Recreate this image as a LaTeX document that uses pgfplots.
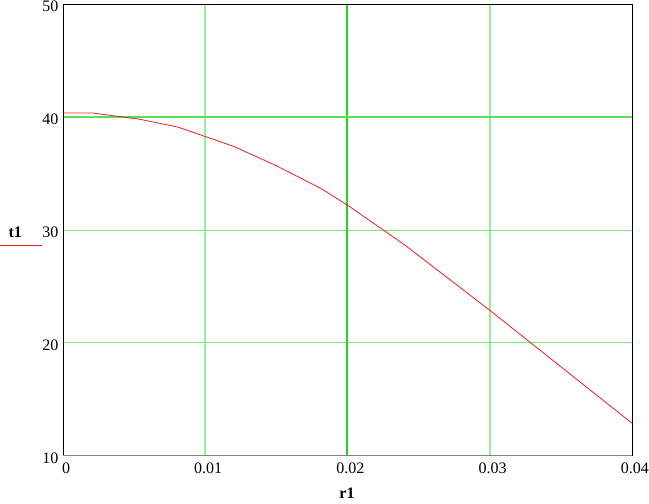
\documentclass[border=0pt]{standalone}
\usepackage{pgfplots}
\pgfplotsset{compat=1.18}
\usepackage{fontspec}
\setmainfont{Liberation Serif}
\definecolor{gridgreen}{RGB}{120,232,120}
\definecolor{vgreen}{RGB}{150,238,150}
\definecolor{midgreen}{RGB}{30,215,30}
\definecolor{curvered}{RGB}{235,30,30}
\begin{document}
\fontsize{16}{19}\selectfont
\begin{tikzpicture}[x=1pt,y=1pt]
\path[use as bounding box] (0,0) rectangle (649,504);
\begin{axis}[
    at={(63pt,48pt)}, anchor=south west,
    scale only axis, width=569pt, height=452pt,
    xmin=0, xmax=0.04, ymin=10, ymax=50,
    xtick={0,0.01,0.02,0.03,0.04},
    xticklabels={0,0.01,0.02,0.03,0.04},
    scaled x ticks=false,
    ytick={10,20,30,40,50},
    major tick length=0pt,
    axis line style={draw=none},
    /pgf/number format/assume math mode=true,
    xticklabel style={anchor=north, xshift=3pt, yshift=-1pt, font=\fontsize{16}{19}\selectfont},
    yticklabel style={anchor=east, xshift=1pt, yshift=-2pt, font=\fontsize{16}{19}\selectfont},
    clip=false,
]
% grid
\draw[vgreen, line width=2pt] (axis cs:0.01,10) -- (axis cs:0.01,50);
\draw[vgreen, line width=2pt] (axis cs:0.03,10) -- (axis cs:0.03,50);
\draw[gridgreen, line width=1pt] (axis cs:0,20) -- (axis cs:0.04,20);
\draw[gridgreen, line width=1pt] (axis cs:0,30) -- (axis cs:0.04,30);
\draw[midgreen, line width=2pt] (axis cs:0.02,10) -- (axis cs:0.02,50);
\draw[midgreen!75, line width=1.4pt] (axis cs:0,40) -- (axis cs:0.04,40);
\addplot[curvered, line width=0.8pt] coordinates {
(0,40.35) (0.0021,40.35) (0.0054,39.8) (0.0081,39.1) (0.012,37.4)
(0.0149,35.75) (0.0181,33.7) (0.02,32.2) (0.024,28.7) (0.030,22.9)
(0.0335,19.4) (0.0378,15.1) (0.04,12.9)
};
\draw[black, line width=0.8pt] (rel axis cs:0,0) -- (rel axis cs:0,1) -- (rel axis cs:1,1) -- (rel axis cs:1,0);
\draw[gray, line width=1pt] (rel axis cs:0,0) -- (rel axis cs:1,0);
\end{axis}
\node[font=\bfseries\fontsize{16}{19}\selectfont, anchor=base west] at (3,266) {t1};
\draw[curvered, line width=0.8pt] (0,259) -- (42,259);
\node[font=\bfseries\fontsize{16}{19}\selectfont, anchor=base] at (347,5) {r1};
\end{tikzpicture}
\end{document}
